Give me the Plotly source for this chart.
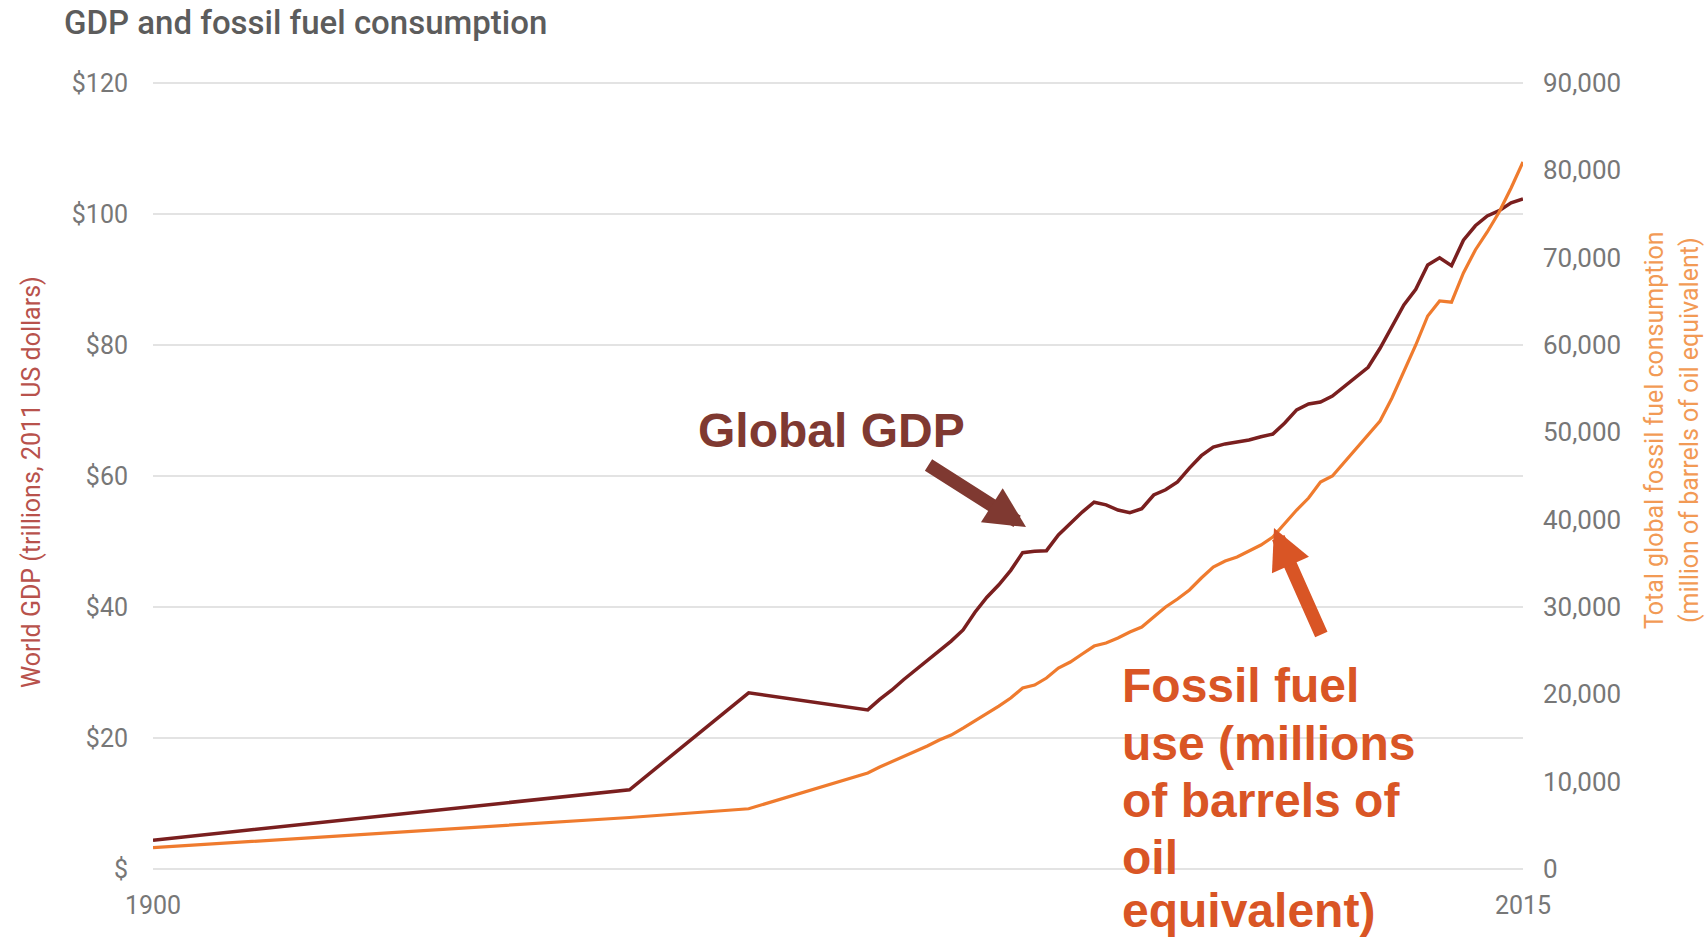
import plotly.graph_objects as go

# ---- data ----
years = [1900, 1940, 1950, 1960, 1961, 1962, 1963, 1964, 1965, 1966, 1967, 1968, 1969,
         1970, 1971, 1972, 1973, 1974, 1975, 1976, 1977, 1978, 1979, 1980, 1981, 1982,
         1983, 1984, 1985, 1986, 1987, 1988, 1989, 1990, 1991, 1992, 1993, 1994, 1995,
         1996, 1997, 1998, 1999, 2000, 2001, 2002, 2003, 2004, 2005, 2006, 2007, 2008,
         2009, 2010, 2011, 2012, 2013, 2014, 2015]

gdp_trillions = [4.4, 12.1, 26.9, 24.3, 25.9, 27.3, 28.9, 30.4, 31.9, 33.3, 34.8, 36.5, 39.2,
                 41.5, 43.4, 45.6, 48.3, 48.5, 48.6, 51.0, 52.7, 54.5, 56.0, 55.6, 54.8, 54.4,
                 55.0, 57.1, 57.9, 59.1, 61.2, 63.1, 64.4, 64.9, 65.2, 65.5, 66.0, 66.4, 68.1,
                 70.1, 71.0, 71.3, 72.2, 73.7, 75.1, 76.6, 79.5, 82.9, 86.1, 88.5, 92.2, 93.3,
                 92.1, 96.0, 98.2, 99.7, 100.5, 101.7, 102.3]

fossil_mboe = [2440, 5900, 6900, 11000, 11680, 12260, 12880, 13510, 14090, 14770, 15340, 16140, 16950,
               17750, 18660, 19580, 20720, 21070, 21870, 23010, 23700, 24620, 25530, 25880, 26450, 27140,
               27710, 28850, 30000, 30920, 31950, 33320, 34580, 35270, 35720, 36410, 37100, 38010, 39620,
               41100, 42480, 44310, 45000, 46600, 48200, 49690, 51300, 53930, 56900, 60000, 63320, 65040,
               64900, 68240, 70880, 72940, 75230, 77970, 80950]

x_ticks = [1900, 2015]
x_ticktext = ["1900", "2015"]
gdp_ticks = [0, 20, 40, 60, 80, 100, 120]
gdp_ticktext = ["$", "$20", "$40", "$60", "$80", "$100", "$120"]
fossil_ticks = [0, 10000, 20000, 30000, 40000, 50000, 60000, 70000, 80000, 90000]
fossil_ticktext = ["0", "10,000", "20,000", "30,000", "40,000", "50,000", "60,000",
                   "70,000", "80,000", "90,000"]

# ---- layout geometry (pixels) ----
W, H = 1706, 939
L, R, T, B = 153, 1523, 83, 869          # where x 1900..2015 and y 0..120 map
EXT = 0.3                                # small range padding so edge gridlines show
GDP_MAX, FOS_MAX = 120, 90000
pad_px = EXT * (B - T) / GDP_MAX
T2, B2 = T - pad_px, B + pad_px          # actual plot-area edges


def px(xp):
    return (xp - L) / (R - L)


def py(yp):
    return (B2 - yp) / (B2 - T2)


GDP_COLOR = "#7a1f1f"
FOSSIL_COLOR = "#ef7b2e"
TICK_COLOR = "#777777"
FONT = "Roboto, Arial, sans-serif"
BOLD_FONT = "Liberation Sans, Arial, sans-serif"

fig = go.Figure()
fig.add_trace(go.Scatter(x=years, y=gdp_trillions, mode="lines", name="World GDP",
                         line=dict(color=GDP_COLOR, width=3.5), yaxis="y"))
fig.add_trace(go.Scatter(x=years, y=fossil_mboe, mode="lines", name="Fossil fuel",
                         line=dict(color=FOSSIL_COLOR, width=3.2), yaxis="y2"))

annotations = [
    # axis titles
    dict(text="World GDP (trillions, 2011 US dollars)", x=px(31), y=py(482),
         xref="paper", yref="paper", xanchor="center", yanchor="middle",
         showarrow=False, textangle=-90,
         font=dict(family=FONT, size=25, color="#b8524c")),
    dict(text="Total global fossil fuel consumption", x=px(1655), y=py(430),
         xref="paper", yref="paper", xanchor="center", yanchor="middle",
         showarrow=False, textangle=-90,
         font=dict(family=FONT, size=25, color="#f29a55")),
    dict(text="(million of barrels of oil equivalent)", x=px(1690), y=py(430),
         xref="paper", yref="paper", xanchor="center", yanchor="middle",
         showarrow=False, textangle=-90,
         font=dict(family=FONT, size=25, color="#f29a55")),
    # Global GDP label + arrow
    dict(text="<b>Global GDP</b>", x=px(696), y=py(431), xref="paper", yref="paper",
         xanchor="left", yanchor="middle", showarrow=False,
         font=dict(family=BOLD_FONT, size=48, color="#7f3931")),
    dict(text="", x=px(1026), y=py(527), xref="paper", yref="paper",
         showarrow=True, ax=-99, ay=-63, arrowhead=2, arrowsize=0.6, arrowwidth=13.5,
         arrowcolor="#7f3931", standoff=0, startstandoff=0),
    # Fossil fuel arrow
    dict(text="", x=px(1274), y=py(528), xref="paper", yref="paper",
         showarrow=True, ax=48, ay=108, arrowhead=2, arrowsize=0.6, arrowwidth=13.5,
         arrowcolor="#d95525", standoff=0, startstandoff=0),
]

fossil_lines = ["Fossil fuel", "use (millions", "of barrels of", "oil", "equivalent)"]
baselines = [702, 760, 817, 874, 927]
for line_txt, bl in zip(fossil_lines, baselines):
    annotations.append(dict(text="<b>" + line_txt + "</b>", x=px(1120), y=py(bl - 17),
                            xref="paper", yref="paper", xanchor="left", yanchor="middle",
                            showarrow=False,
                            font=dict(family=BOLD_FONT, size=48, color="#d95525")))

fig.update_layout(
    width=W, height=H,
    margin=dict(l=L, r=W - R, t=T2, b=H - B2, pad=0),
    paper_bgcolor="white", plot_bgcolor="white",
    showlegend=False,
    title=dict(text="GDP and fossil fuel consumption", x=64 / W, xref="container",
               xanchor="left", y=1 - 22 / H, yref="container", yanchor="middle",
               font=dict(family=FONT, size=33, color="#5c5c5c", weight=500)),
    xaxis=dict(range=[1900, 2015], tickvals=x_ticks, ticktext=x_ticktext,
               showgrid=False, zeroline=False, showline=False, ticks="",
               tickfont=dict(family=FONT, size=25, color=TICK_COLOR),
               ticklabelstandoff=17),
    yaxis=dict(range=[-EXT, GDP_MAX + EXT], tickvals=gdp_ticks, ticktext=gdp_ticktext,
               showgrid=True, gridcolor="#e3e3e3", gridwidth=2, zeroline=False,
               showline=False, ticks="",
               tickfont=dict(family=FONT, size=25, color=TICK_COLOR),
               ticklabelstandoff=24),
    yaxis2=dict(range=[-EXT * FOS_MAX / GDP_MAX, FOS_MAX + EXT * FOS_MAX / GDP_MAX],
                tickvals=fossil_ticks, ticktext=fossil_ticktext,
                overlaying="y", side="right", showgrid=False, zeroline=False,
                showline=False, ticks="",
                tickfont=dict(family=FONT, size=26, color=TICK_COLOR),
                ticklabelstandoff=19),
    annotations=annotations,
)

fig.write_html("out.html", config={"displayModeBar": False},
               post_script="document.body.style.margin='0';")
